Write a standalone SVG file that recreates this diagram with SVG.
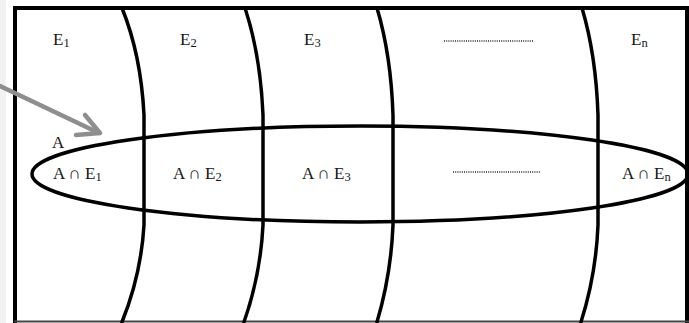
<svg xmlns="http://www.w3.org/2000/svg" width="689" height="323" viewBox="0 0 689 323">
  <style>
    .frame { fill: none; stroke: #000; stroke-width: 4; }
    .div { fill: none; stroke: #000; stroke-width: 3.5; stroke-linecap: round; }
    .ell { fill: none; stroke: #000; stroke-width: 3.5; }
    .lbl { font-family: "Liberation Serif", "DejaVu Serif", serif; font-size: 17px; fill: #151515; }
    .sub { font-size: 12.5px; }
    .dots { stroke: #223; stroke-width: 1.6; stroke-dasharray: 1 1.2; fill: none; }
    .arrow { fill: none; stroke: #8e8e8e; stroke-width: 4.5; stroke-linecap: round; stroke-linejoin: round; }
  </style>
  <rect x="0" y="0" width="689" height="323" fill="#ffffff"/>
  <rect x="0" y="0" width="6" height="323" fill="#f2f2f2"/>
  <g id="frame">
    <path class="frame" d="M15,323 L15,8 L687,8 L687,323"/>
    <line x1="14" y1="321.5" x2="689" y2="321.5" stroke="#444" stroke-width="2"/>
  </g>
  <g id="connectors">
    <path class="div" d="M122,8 Q141,55 144,115 L144,225 Q141,275 122,322"/>
    <path class="div" d="M245,8 Q260.5,55 263,115 L263,225 Q260.5,275 244,322"/>
    <path class="div" d="M377,8 Q391,55 393,115 L393,225 Q391,275 377,322"/>
    <path class="div" d="M582,8 Q596,55 598,115 L598,225 Q596,275 581,322"/>
    <ellipse class="ell" cx="360" cy="174" rx="328" ry="48"/>
    <path class="arrow" d="M0,86 L99,133"/>
    <path class="arrow" d="M85,115 L100,133 L76,135"/>
  </g>
  <g id="E1"><text class="lbl" x="53" y="45">E<tspan class="sub" dy="2">1</tspan></text></g>
  <g id="E2"><text class="lbl" x="180" y="45">E<tspan class="sub" dy="2">2</tspan></text></g>
  <g id="E3"><text class="lbl" x="304" y="45">E<tspan class="sub" dy="2">3</tspan></text></g>
  <g id="Edots"><line class="dots" x1="444" y1="41" x2="533" y2="41"/></g>
  <g id="En"><text class="lbl" x="631" y="45">E<tspan class="sub" dy="2">n</tspan></text></g>
  <g id="A"><text class="lbl" x="52" y="148">A</text></g>
  <g id="AE1"><text class="lbl" x="53" y="179">A ∩ E<tspan class="sub" dy="2">1</tspan></text></g>
  <g id="AE2"><text class="lbl" x="173" y="179">A ∩ E<tspan class="sub" dy="2">2</tspan></text></g>
  <g id="AE3"><text class="lbl" x="302" y="179">A ∩ E<tspan class="sub" dy="2">3</tspan></text></g>
  <g id="AEdots"><line class="dots" x1="453" y1="172" x2="541" y2="172"/></g>
  <g id="AEn"><text class="lbl" x="622" y="179">A ∩ E<tspan class="sub" dy="2">n</tspan></text></g>
</svg>
